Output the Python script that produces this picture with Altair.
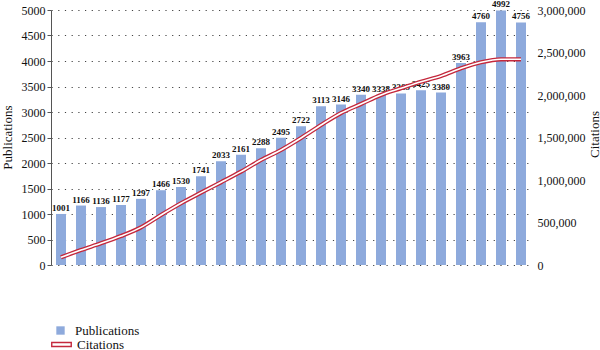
import altair as alt
import pandas as pd

years = [str(y) for y in range(2000, 2024)]
publications = [1001, 1166, 1136, 1177, 1297, 1466, 1530, 1741, 2033, 2161, 2288, 2495,
                2722, 3113, 3146, 3340, 3338, 3365, 3425, 3380, 3963, 4760, 4992, 4756]
citations = [90000, 176000, 255000, 341000, 443000, 588000, 726000, 851000, 973000, 1098000,
             1235000, 1353000, 1494000, 1647000, 1788000, 1894000, 2000000, 2079000, 2157000,
             2224000, 2314000, 2385000, 2420000, 2420000]

df = pd.DataFrame({"year": years, "pub": publications, "cit": citations,
                   "s1": "Publications", "s2": "Citations"})

FONT = "Liberation Serif"
BAR = "#8eaadc"
RED = "#c4283c"

x = alt.X("year:O", title="Publication year",
          scale=alt.Scale(paddingInner=0.5, paddingOuter=0.25),
          axis=alt.Axis(labelAngle=-90, ticks=False, domainColor="#333",
                        labelPadding=4, titlePadding=6))
x_plain = alt.X("year:O", scale=alt.Scale(paddingInner=0.5, paddingOuter=0.25), axis=None)

base = alt.Chart(df)

bars = base.mark_bar(color=BAR).encode(
    x=x,
    y=alt.Y("pub:Q", title="Publications",
            scale=alt.Scale(domain=[0, 5000]),
            axis=alt.Axis(values=list(range(0, 5001, 500)), labelExpr="format(datum.value, 'd')",
                          grid=True, gridDash=[1.2, 5.5], gridColor="#444", gridWidth=1,
                          domainColor="#555", tickColor="#555", tickSize=4,
                          titleAngle=270, titleBaseline="middle", titleAlign="center",
                          titleX=-43.5, titleY=127)),
    color=alt.Color("s1:N", scale=alt.Scale(domain=["Publications"], range=[BAR]),
                    legend=alt.Legend(title=None, orient="none", legendX=3, legendY=314,
                                      symbolType="square", symbolSize=70, padding=0,
                                      labelOffset=8)),
)

labels = base.mark_text(dy=-6, font=FONT, fontSize=9, fontWeight="bold", color="#111").encode(
    x=x_plain, y=alt.Y("pub:Q", scale=alt.Scale(domain=[0, 5000]), axis=None), text="pub:Q")

line_outer = base.mark_line(interpolate="monotone", strokeWidth=4.2).encode(
    x=x_plain,
    y=alt.Y("cit:Q", scale=alt.Scale(domain=[0, 3000000]), axis=None),
    stroke=alt.Stroke("s2:N", scale=alt.Scale(domain=["Citations"], range=[RED]),
                      legend=alt.Legend(title=None, orient="none", legendX=0, legendY=324,
                                        symbolType="M-1,-0.2L1,-0.2L1,0.2L-1,0.2Z",
                                        symbolSize=380, symbolFillColor="white",
                                        symbolStrokeWidth=1.4, padding=0, labelOffset=5)),
)

line_inner = base.mark_line(interpolate="monotone", strokeWidth=1.6, color="white").encode(
    x=x_plain,
    y=alt.Y("cit:Q", title="Citations", scale=alt.Scale(domain=[0, 3000000]),
            axis=alt.Axis(orient="right", values=list(range(0, 3000001, 500000)),
                          labelExpr="format(datum.value, ',')", grid=False, domain=False,
                          ticks=False, labelPadding=6,
                          titleAngle=270, titleBaseline="middle", titleAlign="center",
                          titleX=63, titleY=124)))

chart = alt.layer(bars, labels, line_outer, line_inner).resolve_scale(
    y="independent", color="independent", stroke="independent"
).resolve_axis(y="independent").properties(
    width=480, height=255,
    background="white",
    autosize=alt.AutoSizeParams(type="none"),
    padding={"left": 51, "top": 10, "right": 69, "bottom": 85},
).configure_view(stroke=None).configure_axis(
    labelFont=FONT, titleFont=FONT, labelFontSize=12, titleFontSize=13,
    labelColor="#111", titleColor="#111", titleFontWeight="normal"
).configure_legend(labelFont=FONT, labelFontSize=13, labelColor="#111")

chart.save("out.html", embed_options={"renderer": "svg", "actions": False})
